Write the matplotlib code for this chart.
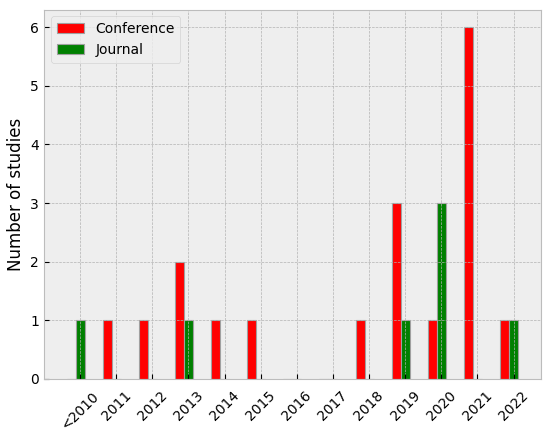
import numpy as np
import matplotlib
matplotlib.use("Agg")
import matplotlib.pyplot as plt

# ---- data ----
years = ["<2010", "2011", "2012", "2013", "2014", "2015", "2016",
         "2017", "2018", "2019", "2020", "2021", "2022"]
conference = [0, 1, 1, 2, 1, 1, 0, 0, 1, 3, 1, 6, 1]
journal = [1, 0, 0, 1, 0, 0, 0, 0, 0, 1, 3, 0, 1]

plt.style.use("bmh")

fig = plt.figure(figsize=(5.5, 4.43), dpi=100)
ax = fig.add_axes([0.08, 0.1445, 0.903, 0.834])

x = np.arange(len(years))
width = 0.25
ax.bar(x - width, conference, width, color="red", edgecolor="#a0a0a0",
       linewidth=0.8, label="Conference")
ax.bar(x, journal, width, color="green", edgecolor="#a0a0a0",
       linewidth=0.8, label="Journal")

ax.set_xticks(x)
ax.set_xticklabels(years, rotation=45)
ax.tick_params(axis="x", pad=7)
ax.set_ylabel("Number of studies")
ax.legend(loc="upper left")

fig.savefig("out.png", dpi=100)
